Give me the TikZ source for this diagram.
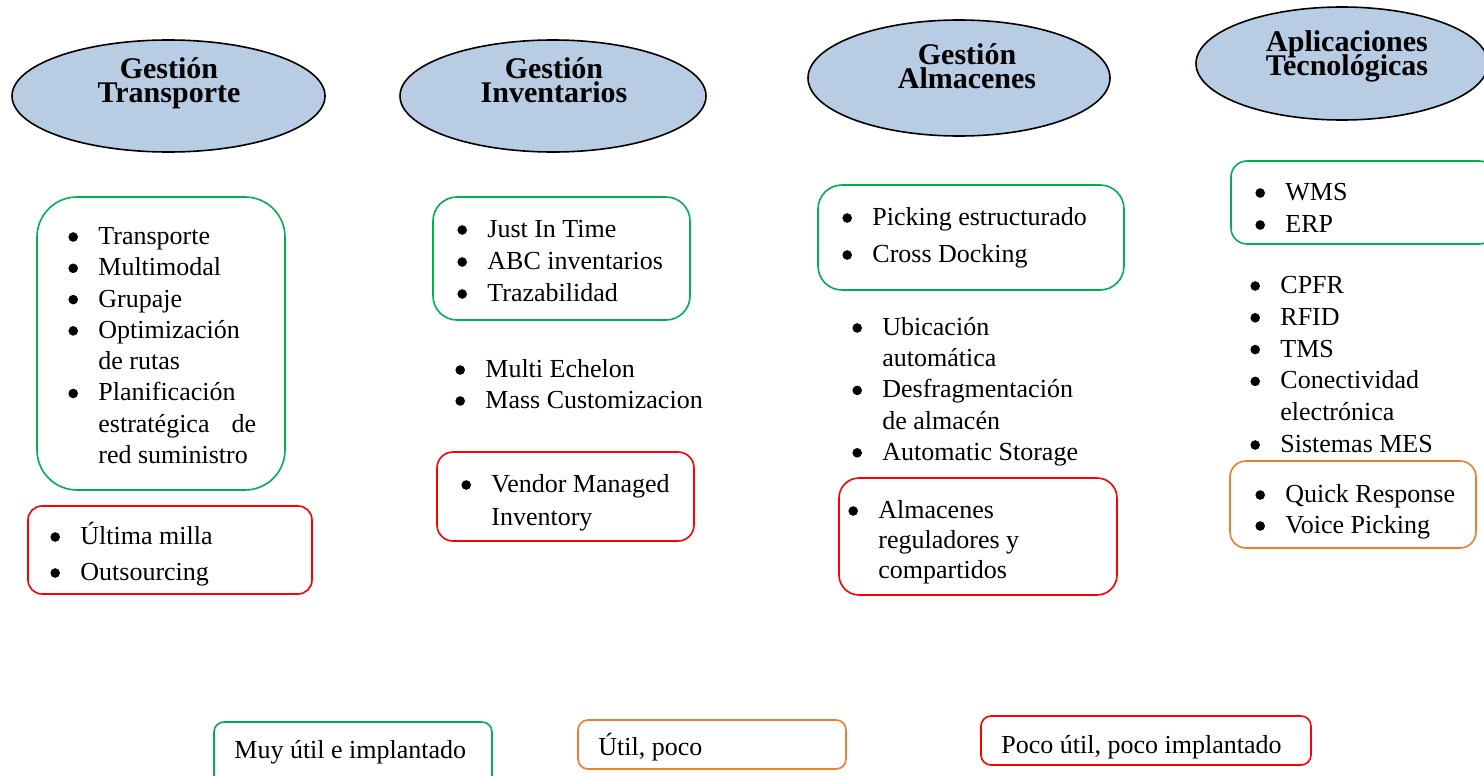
\documentclass[tikz,border=0pt]{standalone}
\usepackage{fontspec}
\setmainfont{Liberation Serif}
\usetikzlibrary{shapes.geometric,fit}
\definecolor{gr}{HTML}{00B050}
\definecolor{rd}{HTML}{FF0000}
\definecolor{og}{HTML}{ED7D31}
\definecolor{ellfill}{HTML}{B8CCE4}
\newcommand\bdot{\tikz[baseline={(0pt,-3.7pt)}]\fill[black] (0pt,0pt) circle (2.4pt);}
\newcommand\bitem[1]{\rule{0pt}{11.5pt}\makebox[15pt][l]{\bdot}#1}
\newcommand\bcont[1]{\rule{0pt}{11.5pt}\hspace*{15pt}#1}
\begin{document}
\lineskiplimit=-30pt
\begin{tikzpicture}[x=0.5pt,y=-0.5pt,
  ell/.style={ellipse,draw=black,line width=0.8pt,fill=ellfill,inner sep=0pt},
  etxt/.style={align=center,inner sep=0pt,anchor=north,font=\bfseries\fontsize{15}{12}\selectfont},
  cbox/.style={draw=#1,line width=0.8pt,inner sep=0pt},
  lst/.style={align=left,inner sep=0pt,anchor=north west,font=\fontsize{13}{#1}\selectfont},
  leg/.style={inner sep=0pt,anchor=base west,font=\fontsize{13}{15}\selectfont}
]
\useasboundingbox (0,0) rectangle (1484,776);

% ellipses
\node[ell,minimum width=156.5pt,minimum height=56pt] (e1) at (168.5,96) {};
\node[ell,minimum width=153pt,minimum height=56pt] (e2) at (553,96) {};
\node[ell,minimum width=151pt,minimum height=58pt] (e3) at (959,78) {};
\node[ell,minimum width=146pt,minimum height=56.5pt] (e4) at (1342,63.5) {};
\node[etxt] (t1) at (169,56) {\rule{0pt}{11pt}Gestión\\Transporte};
\node[etxt] (t2) at (554,56) {\rule{0pt}{11pt}Gestión\\Inventarios};
\node[etxt] (t3) at (967,42) {\rule{0pt}{11pt}Gestión\\Almacenes};
\node[etxt] (t4) at (1347,29) {\rule{0pt}{11pt}Aplicaciones\\Tecnológicas};

% boxes
\node[cbox=gr,rounded corners=20pt,fit={(37,197)(285,490)}] (bA) {};
\node[cbox=rd,rounded corners=7pt,fit={(28,506)(312,594)}] (rA) {};
\node[cbox=gr,rounded corners=12pt,fit={(433,197)(690,320)}] (bB) {};
\node[cbox=rd,rounded corners=8pt,fit={(437,452)(694,541)}] (rB) {};
\node[cbox=gr,rounded corners=12pt,fit={(818,185)(1124,290)}] (bC) {};
\node[cbox=rd,rounded corners=10pt,fit={(839,478)(1117,595)}] (rC) {};
\node[cbox=gr,rounded corners=8pt,fit={(1231,161)(1495,244)}] (bD) {};
\node[cbox=og,rounded corners=8pt,fit={(1230,461)(1476,548)}] (oD) {};

% lists
\node[lst=15.65] (lA) at (68,221) {\bitem{Transporte}\\ \bitem{Multimodal}\\ \bitem{Grupaje}\\ \bitem{Optimización}\\ \bcont{de rutas}\\ \bitem{Planificación}\\ \bcont{estratégica\hspace{11pt}de}\\ \bcont{red suministro}};
\node[lst=18] (lrA) at (50,521) {\bitem{Última milla}\\ \bitem{Outsourcing}};
\node[lst=16] (lB) at (457,214) {\bitem{Just In Time}\\ \bitem{ABC inventarios}\\ \bitem{Trazabilidad}};
\node[lst=15.5] (lfB) at (455,354) {\bitem{Multi Echelon}\\ \bitem{Mass Customizacion}};
\node[lst=16.5] (lrB) at (461,469) {\bitem{Vendor Managed}\\ \bcont{Inventory}};
\node[lst=18.5] (lC) at (842,202) {\bitem{Picking estructurado}\\ \bitem{Cross Docking}};
\node[lst=15.6] (lfC) at (852,312) {\bitem{Ubicación}\\ \bcont{automática}\\ \bitem{Desfragmentación}\\ \bcont{de almacén}\\ \bitem{Automatic Storage}};
\node[lst=15] (lrC) at (848,495) {\bitem{Almacenes}\\ \bcont{reguladores y}\\ \bcont{compartidos}};
\node[lst=16] (lD) at (1255,177) {\bitem{WMS}\\ \bitem{ERP}};
\node[lst=15.9] (lfD) at (1250,270) {\bitem{CPFR}\\ \bitem{RFID}\\ \bitem{TMS}\\ \bitem{Conectividad}\\ \bcont{electrónica}\\ \bitem{Sistemas MES}};
\node[lst=15.5] (loD) at (1255,479) {\bitem{Quick Response}\\ \bitem{Voice Picking}};

% legend
\node[cbox=gr,rounded corners=5pt,fit={(214,722)(492,786)}] (lg1) {};
\node[cbox=og,rounded corners=5pt,fit={(578,720)(846,769)}] (lg2) {};
\node[cbox=rd,rounded corners=5pt,fit={(981,716)(1311,765)}] (lg3) {};
\node[leg] (lt1) at (234,758) {Muy útil e implantado};
\node[leg] (lt2) at (598,755) {Útil, poco};
\node[leg] (lt3) at (1001,753) {Poco útil, poco implantado};
\end{tikzpicture}
\end{document}
